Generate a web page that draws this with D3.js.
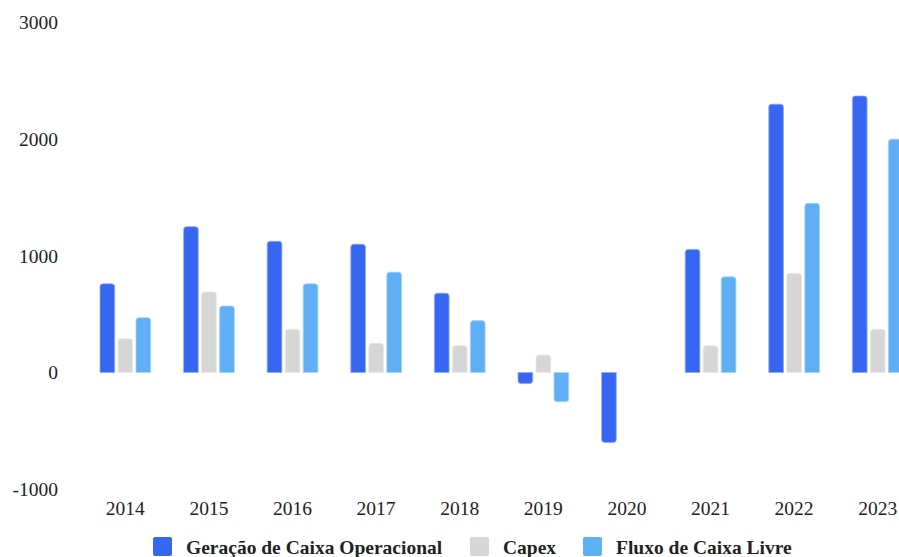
<!DOCTYPE html>
<html>
<head>
<meta charset="utf-8">
<script src="https://cdn.jsdelivr.net/npm/d3@7/dist/d3.min.js"></script>
<style>
  html, body { margin: 0; padding: 0; background: #fff; }
  svg { display: block; }
  text { font-family: "Liberation Serif", "Times New Roman", serif; }
</style>
</head>
<body>
<svg id="chart" width="899" height="557"></svg>
<script>
// Anos e séries (valores em R$ milhões)
const years = ["2014", "2015", "2016", "2017", "2018", "2019", "2020", "2021", "2022", "2023"];
const geracaoCaixa = [760, 1250, 1125, 1100, 680, -95, -600, 1055, 2300, 2370];
const capex = [290, 690, 370, 250, 230, 150, 0, 230, 850, 370];
const fluxoCaixaLivre = [470, 570, 760, 860, 445, -250, 0, 820, 1450, 2000];
const yTicks = [-1000, 0, 1000, 2000, 3000];

const seriesNames = ["Geração de Caixa Operacional", "Capex", "Fluxo de Caixa Livre"];
const seriesValues = [geracaoCaixa, capex, fluxoCaixaLivre];
const colors = ["#3767F1", "#D6D6D6", "#5FAFF5"];
const strokes = ["#8FA8F7", "#E8E8E8", "#A5D2FA"];
const fontSize = 19.5;

const svg = d3.select("#chart");

const x = d3.scaleBand().domain(years).range([83.5, 919.5]).padding(0);
const inner = d3.scaleBand().domain(seriesNames).range([16.5, 67.2]).paddingInner(0.185).paddingOuter(0);
const y = d3.scaleLinear().domain([-1000, 3000]).range([489.2, 22.5]);

// Eixo Y (somente rótulos, com hífen simples nos negativos)
const yAxis = svg.append("g").attr("transform", "translate(58,0)")
  .call(d3.axisLeft(y).tickValues(yTicks).tickSize(0).tickPadding(0).tickFormat(d => String(d)));
yAxis.select(".domain").remove();
yAxis.selectAll("text").attr("font-size", fontSize).attr("fill", "#222")
  .style("font-family", "'Liberation Serif', serif");

// Eixo X (somente rótulos)
const xAxis = svg.append("g").attr("transform", "translate(0,501)")
  .call(d3.axisBottom(x).tickSize(0).tickPadding(0));
xAxis.select(".domain").remove();
xAxis.selectAll("text").attr("font-size", fontSize).attr("fill", "#222")
  .style("font-family", "'Liberation Serif', serif");

// Barra com cantos arredondados na extremidade oposta ao zero
function barPath(x0, w, v) {
  const y0 = y(0), y1 = y(v);
  const h = Math.abs(y1 - y0);
  const r = Math.min(3, h, w / 2);
  if (v >= 0) {
    return `M${x0},${y0}V${y1 + r}Q${x0},${y1} ${x0 + r},${y1}H${x0 + w - r}Q${x0 + w},${y1} ${x0 + w},${y1 + r}V${y0}Z`;
  }
  return `M${x0},${y0}V${y1 - r}Q${x0},${y1} ${x0 + r},${y1}H${x0 + w - r}Q${x0 + w},${y1} ${x0 + w},${y1 - r}V${y0}Z`;
}

const bars = [];
years.forEach((yr, i) => {
  seriesNames.forEach((s, j) => {
    const v = seriesValues[j][i];
    if (v !== 0) bars.push({ yr, s, j, v });
  });
});

svg.append("g").selectAll("path").data(bars).join("path")
  .attr("d", d => barPath(x(d.yr) + inner(d.s), inner.bandwidth(), d.v))
  .attr("fill", d => colors[d.j])
  .attr("stroke", d => strokes[d.j])
  .attr("stroke-width", 0.8);

// Legenda
const legendItems = [
  { name: seriesNames[0], sx: 153, tx: 186 },
  { name: seriesNames[1], sx: 470, tx: 503 },
  { name: seriesNames[2], sx: 583, tx: 616 }
];
const legend = svg.append("g");
legendItems.forEach((it, j) => {
  legend.append("rect").attr("x", it.sx).attr("y", 537).attr("width", 19).attr("height", 19)
    .attr("rx", 2).attr("fill", colors[j]);
  legend.append("text").attr("x", it.tx).attr("y", 554)
    .attr("font-size", fontSize).attr("font-weight", "bold").attr("fill", "#222")
    .text(it.name);
});
</script>
</body>
</html>
